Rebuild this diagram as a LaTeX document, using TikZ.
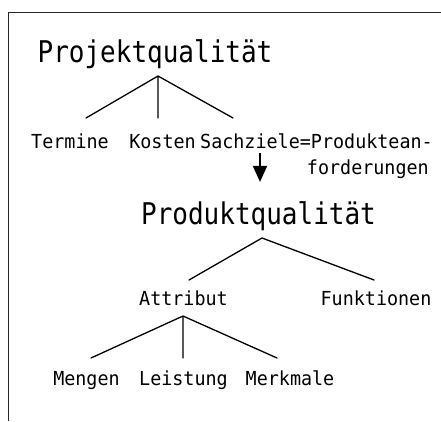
\documentclass[tikz,border=0pt]{standalone}
\usepackage{fontspec}
\setmonofont{DejaVu Sans Mono}
\usetikzlibrary{arrows.meta}
\newcommand{\tall}[2]{\scalebox{1}[#1]{#2}}
\tikzset{
    big/.style = {inner sep=0pt,anchor=base,text=black,font=\ttfamily\fontsize{26}{30}\selectfont},
    lbl/.style = {inner sep=0pt,anchor=base,text=black,font=\ttfamily\fontsize{18.4}{22}\selectfont},
    branch/.style = {line width=1.3pt,line cap=round,black},
    frame/.style = {line width=1.5pt,black!85}
}

\begin{document}
\begin{tikzpicture}[x=1pt,y=-1pt]
            \useasboundingbox (0,0) rectangle (441,421);
            \draw[frame] (441,12.5) -- (8.5,12.5) -- (8.5,421);

            % Projektqualitaet
            \node[big] (proj)  at (155,62)   {\tall{1.15}{Projektqualität}};
            \node[lbl] (term)  at (70,148)   {\tall{1.05}{Termine}};
            \node[lbl] (kost)  at (162.5,148) {\tall{1.05}{Kosten}};
            \node[lbl] (sach)  at (316.5,148) {\tall{1.05}{Sachziele=Produktean-}};
            \node[lbl,anchor=base east] (ford) at (429,174) {\tall{1.05}{forderungen}};

            % Produktqualitaet
            \node[big] (prod)  at (258.5,224) {\tall{1.15}{Produktqualität}};
            \node[lbl] (attr)  at (183.5,305) {\tall{1.05}{Attribut}};
            \node[lbl] (funk)  at (376,305)  {\tall{1.05}{Funktionen}};
            \node[lbl] (meng)  at (86.5,385) {\tall{1.05}{Mengen}};
            \node[lbl] (leis)  at (183.5,385) {\tall{1.05}{Leistung}};
            \node[lbl] (merk)  at (290,385)  {\tall{1.05}{Merkmale}};

            % Verzweigungen
            \coordinate (p0) at (158,76);
            \coordinate (p1) at (86,118);
            \coordinate (p2) at (158,118);
            \coordinate (p3) at (233,118);
            \coordinate (q0) at (262,238);
            \coordinate (q1) at (189,280);
            \coordinate (q2) at (374,280);
            \coordinate (a0) at (183,316);
            \coordinate (a1) at (91,358);
            \coordinate (a2) at (183,358);
            \coordinate (a3) at (277,358);

            \draw[branch] (p1) -- (p0) -- (p3)  (p0) -- (p2);
            \draw[branch] (q1) -- (q0) -- (q2);
            \draw[branch] (a1) -- (a0) -- (a3)  (a0) -- (a2);

            \draw[line width=1.8pt,-{Triangle[width=14pt,length=16pt]},
                  shorten <=5pt,shorten >=19pt] ([xshift=1.5pt]sach.south -| prod.north) -- ([xshift=1.5pt]prod.north);
\end{tikzpicture}
\end{document}
